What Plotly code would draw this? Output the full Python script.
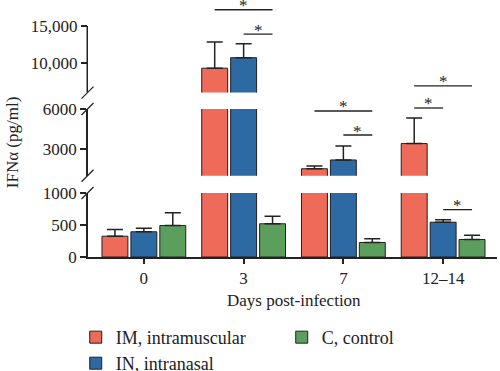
import plotly.graph_objects as go

# ---------------- data ----------------
days = ["0", "3", "7", "12\u201314"]
series_names = ["IM, intramuscular", "IN, intranasal", "C, control"]
im_mean = [325, 9300, 1520, 3410]
im_sd = [105, 3550, 200, 1920]
in_mean = [394, 10720, 2180, 544]
in_sd = [56, 1890, 1050, 37]
c_mean = [492, 519, 227, 273]
c_sd = [198, 119, 57, 68]

bottom_ticks = [0, 500, 1000]
bottom_ticktext = ["0", "500", "1000"]
middle_ticks = [3000, 6000]
middle_ticktext = ["3000", "6000"]
top_ticks = [10000, 15000]
top_ticktext = ["10,000", "15,000"]

# significance comparisons: (day index, group a, group b, axis segment, bar height)
sig_pairs = [
    (1, "IM", "C", "y3", 17200),
    (1, "IN", "C", "y3", 13900),
    (2, "IM", "C", "y2", 5850),
    (2, "IN", "C", "y2", 4050),
    (3, "IM", "C", "y3", 6900),
    (3, "IM", "IN", "y2top", None),
    (3, "IN", "C", "y", 740),
]

# ---------------- style ----------------
FONT = "Liberation Serif"
INK = "#222222"
colors = {"IM": "#EE6A59", "IN": "#2D69A3", "C": "#5C9E5C"}
offsets = {"IM": -0.42, "IN": -0.13, "C": 0.16}
centers = {"IM": -0.29, "IN": 0.0, "C": 0.29}
legends = {"IM": "legend", "C": "legend", "IN": "legend2"}
ranks = {"IM": 1, "C": 2, "IN": 3}
bar_w = 0.26

series = [
    ("IM", series_names[0], im_mean, im_sd),
    ("IN", series_names[1], in_mean, in_sd),
    ("C", series_names[2], c_mean, c_sd),
]

fig = go.Figure()
for seg_i, yref in enumerate(["y", "y2", "y3"]):
    for key, name, mean, sd in series:
        fig.add_trace(go.Bar(
            x=days, y=mean, name=name, xaxis="x", yaxis=yref,
            offset=offsets[key], width=bar_w,
            marker=dict(color=colors[key], line=dict(color=INK, width=1)),
            error_y=dict(type="data", array=sd, arrayminus=[0] * len(sd),
                         symmetric=False, color=INK, thickness=1.5, width=8),
            showlegend=(seg_i == 0), legend=legends[key], legendrank=ranks[key],
            hoverinfo="skip",
        ))

axis_common = dict(
    showgrid=False, zeroline=False, showline=True, linecolor=INK, linewidth=1.5,
    ticks="outside", ticklen=6, tickwidth=1.5, tickcolor=INK,
    tickfont=dict(family=FONT, size=17, color=INK), anchor="x", automargin=False,
)

shapes = []
annotations = []

# top segment axis line (range extends above for the significance markers)
shapes.append(dict(type="line", xref="paper", xsizemode="pixel", xanchor=0,
                   x0=-0.75, x1=-0.75, yref="y3", y0=6000, y1=top_ticks[-1],
                   line=dict(color=INK, width=1.5)))

# break marks
for yr, anc in [("y3 domain", 0), ("y2 domain", 1), ("y2 domain", 0), ("y domain", 1)]:
    shapes.append(dict(type="line", xref="paper", xsizemode="pixel", xanchor=0,
                       x0=-6.5, x1=5.5, yref=yr, ysizemode="pixel", yanchor=anc,
                       y0=-6, y1=6, line=dict(color=INK, width=1.3)))

# significance markers
for d, a, b, seg, h in sig_pairs:
    xa = d + centers[a]
    xb = d + centers[b]
    if seg == "y2top":
        shapes.append(dict(type="line", xref="x", x0=xa, x1=xb, yref="y2 domain",
                           y0=1.015, y1=1.015, line=dict(color=INK, width=1.3)))
        annotations.append(dict(x=(xa + xb) / 2, xref="x", y=6000, yref="y2",
                                yshift=5, text="*", showarrow=False,
                                font=dict(family=FONT, size=17, color=INK)))
    else:
        shapes.append(dict(type="line", xref="x", x0=xa, x1=xb, yref=seg,
                           y0=h, y1=h, line=dict(color=INK, width=1.3)))
        annotations.append(dict(x=(xa + xb) / 2, xref="x", y=h, yref=seg,
                                yshift=4, text="*", showarrow=False,
                                font=dict(family=FONT, size=17, color=INK)))

annotations.append(dict(text="IFN\u03b1 (pg/ml)", xref="paper", yref="paper",
                        x=-0.186, y=0.45, xanchor="center", yanchor="middle",
                        textangle=-90, showarrow=False,
                        font=dict(family=FONT, size=17, color=INK)))
annotations.append(dict(text="Days post-infection", xref="paper", yref="paper",
                        x=0.504, y=-0.169, xanchor="center", yanchor="middle",
                        showarrow=False,
                        font=dict(family=FONT, size=17, color=INK)))

legend_common = dict(orientation="h", xanchor="left", yanchor="top",
                     entrywidth=161, font=dict(family=FONT, size=18, color=INK),
                     bgcolor="rgba(0,0,0,0)")

fig.update_layout(
    width=500, height=371,
    margin=dict(l=88, r=3, t=2, b=114, autoexpand=False),
    paper_bgcolor="white", plot_bgcolor="white",
    barmode="overlay",
    font=dict(family=FONT, size=17, color=INK),
    xaxis=dict(type="category", range=[-0.56, 3.54], showgrid=False, zeroline=False,
               showline=True, linecolor=INK, linewidth=1.5, ticks="outside",
               ticklen=5, tickwidth=1.5, tickcolor=INK, anchor="y",
               tickfont=dict(family=FONT, size=17, color=INK), automargin=False),
    yaxis=dict(domain=[0, 64 / 255], range=[0, 1000], tickvals=bottom_ticks,
               ticktext=bottom_ticktext, **axis_common),
    yaxis2=dict(domain=[(257 - 175.7) / 255, (257 - 109) / 255], range=[1000, 6000],
                tickvals=middle_ticks, ticktext=middle_ticktext, **axis_common),
    yaxis3=dict(domain=[(257 - 92.6) / 255, 1], range=[6000, 18250],
                tickvals=top_ticks, ticktext=top_ticktext,
                **{**axis_common, "showline": False}),
    legend=dict(x=-0.030, y=-0.243, **legend_common),
    legend2=dict(x=-0.030, y=-0.345, **legend_common),
    shapes=shapes,
    annotations=annotations,
)

fig.write_html("out.html", config={"displayModeBar": False},
               post_script="document.body.style.margin='0';")
